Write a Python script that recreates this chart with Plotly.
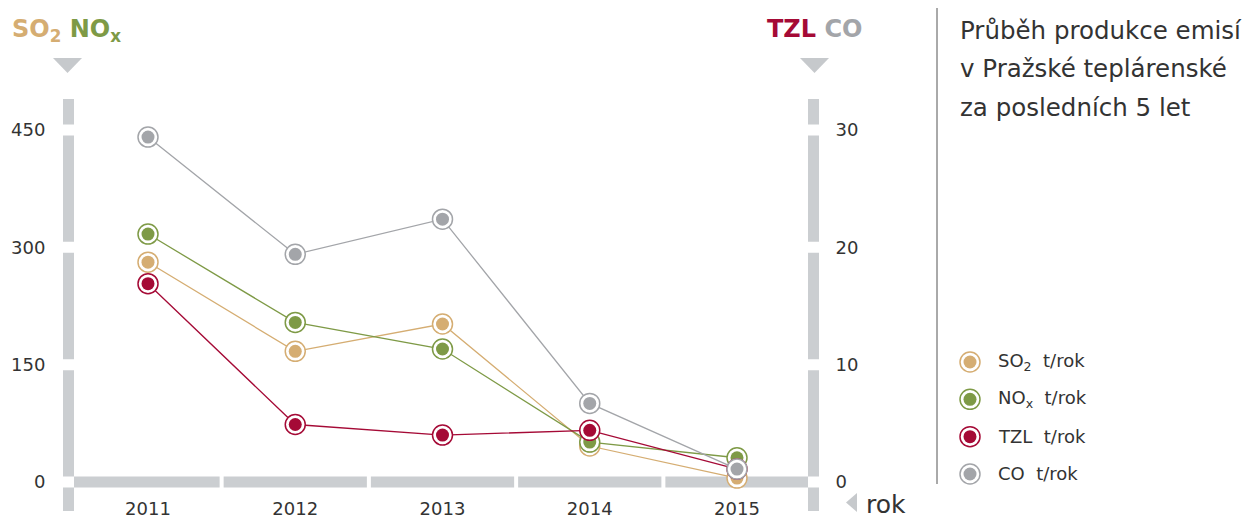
import plotly.graph_objects as go

W, H = 1243, 518

years = [2011, 2012, 2013, 2014, 2015]
so2 = [281, 167, 202, 46, 5]        # t/rok, left axis
nox = [317, 204, 170, 51, 31]       # t/rok, left axis
tzl = [16.9, 4.9, 4.0, 4.4, 1.1]    # t/rok, right axis
co = [29.4, 19.4, 22.4, 6.7, 1.1]   # t/rok, right axis

left_ticks = [0, 150, 300, 450]
right_ticks = [0, 10, 20, 30]

series = [
    ("SO<sub>2</sub>", so2, "#d5ad72", "y"),
    ("NO<sub>x</sub>", nox, "#7e9a46", "y"),
    ("TZL", tzl, "#a50a36", "y2"),
    ("CO", co, "#a3a5a9", "y2"),
]

BAR = "#cbced1"
TXT = "#333333"
FONT = "DejaVu Sans"

def px(x):
    return x / W

def py(y):
    return (H - y) / H

fig = go.Figure()

for name, vals, col, yax in series:
    fig.add_trace(go.Scatter(x=years, y=vals, yaxis=yax, mode="lines",
                             line=dict(color=col, width=1.3), showlegend=False, hoverinfo="skip"))
    fig.add_trace(go.Scatter(x=years, y=vals, yaxis=yax, mode="markers",
                             marker=dict(size=20, color="white", line=dict(color=col, width=1.5)),
                             showlegend=False, hoverinfo="skip"))
    fig.add_trace(go.Scatter(x=years, y=vals, yaxis=yax, mode="markers",
                             marker=dict(size=13, color=col, line=dict(width=0)),
                             showlegend=False, name=name))

# legend (manual, double-ring markers)
for i, (name, vals, col, yax) in enumerate(series):
    fig.add_trace(go.Scatter(x=[0.5], y=[i], xaxis="x3", yaxis="y3", mode="markers",
                             marker=dict(size=20, color="white", line=dict(color=col, width=1.5)),
                             showlegend=False, hoverinfo="skip"))
    fig.add_trace(go.Scatter(x=[0.5], y=[i], xaxis="x3", yaxis="y3", mode="markers",
                             marker=dict(size=13, color=col, line=dict(width=0)),
                             showlegend=False, hoverinfo="skip"))
    fig.add_annotation(x=px(996), y=i, xref="paper", yref="y3", xanchor="left", yanchor="middle",
                       text=name + "&nbsp; t/rok", showarrow=False,
                       font=dict(family=FONT, size=18, color=TXT))

# axis ranges derived from pixel geometry
x0_px, x1_px = 68, 813
x_step = 147.25
xr = [years[0] - (148 - x0_px) / x_step, years[-1] + (x1_px - 737) / x_step]
ybot_px, ytop_px = 511, 99
unit = 352 / 450.0  # px per t on left axis
yr = [-(ybot_px - 482) / unit, (482 - ytop_px) / unit]

shapes = []
# vertical segmented bars
gap = 7
for xa, xb in [(63, 74), (808, 819)]:
    edges = [yr[0]] + sum([[t - gap, t + gap] for t in left_ticks], []) + [yr[1]]
    for k in range(0, len(edges), 2):
        shapes.append(dict(type="rect", xref="paper", yref="y", x0=px(xa), x1=px(xb),
                           y0=edges[k], y1=edges[k + 1], fillcolor=BAR, line=dict(width=0), layer="below"))
# horizontal segmented bar
xl = xr[0] + (74 - x0_px) / x_step
xh = xr[0] + (808 - x0_px) / x_step
hg = 2 / x_step
xedges = [xl] + sum([[y + 0.5 - hg, y + 0.5 + hg] for y in years[:-1]], []) + [xh]
for k in range(0, len(xedges), 2):
    shapes.append(dict(type="rect", xref="x", yref="y", x0=xedges[k], x1=xedges[k + 1],
                       y0=-gap, y1=gap, fillcolor=BAR, line=dict(width=0), layer="below"))

def tri(pts):
    s = "M " + " L ".join(f"{px(a)},{py(b)}" for a, b in pts) + " Z"
    return dict(type="path", xref="paper", yref="paper", path=s, fillcolor="#c6c9cc", line=dict(width=0))

shapes.append(tri([(53, 58), (82, 58), (67.5, 73)]))
shapes.append(tri([(800, 58), (829, 58), (814.5, 73)]))
shapes.append(tri([(857, 493), (857, 512), (846, 502.5)]))
# separator line
shapes.append(dict(type="line", xref="paper", yref="paper", x0=px(937), x1=px(937), y0=py(8), y1=py(484),
                   line=dict(color="#555555", width=1)))

fig.update_layout(
    width=W, height=H, margin=dict(l=0, r=0, t=0, b=0, autoexpand=False),
    paper_bgcolor="white", plot_bgcolor="rgba(0,0,0,0)",
    showlegend=False, shapes=shapes,
    font=dict(family=FONT, color=TXT),
    xaxis=dict(domain=[px(x0_px), px(x1_px)], range=xr, tickvals=years, ticktext=[str(y) for y in years],
               showgrid=False, zeroline=False, showline=False, ticks="", anchor="free", position=py(496),
               automargin=False, tickfont=dict(family=FONT, size=18, color=TXT)),
    yaxis=dict(domain=[py(ybot_px), py(ytop_px)], range=yr, tickvals=left_ticks, automargin=False,
               showgrid=False, zeroline=False, showline=False, ticks="outside", ticklen=18,
               tickcolor="rgba(0,0,0,0)", tickfont=dict(family=FONT, size=18, color=TXT)),
    yaxis2=dict(domain=[py(ybot_px), py(ytop_px)], range=[yr[0] / 15, yr[1] / 15], tickvals=right_ticks,
                overlaying="y", side="right", anchor="x", automargin=False,
                showgrid=False, zeroline=False, showline=False, ticks="outside", ticklen=18,
                tickcolor="rgba(0,0,0,0)", tickfont=dict(family=FONT, size=18, color=TXT)),
    xaxis3=dict(domain=[px(950), px(990)], range=[0, 1], visible=False, anchor="y3", automargin=False),
    yaxis3=dict(domain=[py(492.65), py(343.35)], range=[3.5, -0.5], visible=False, anchor="x3",
                automargin=False),
)

fig.add_annotation(x=px(10), y=py(31), xref="paper", yref="paper", xanchor="left", yanchor="middle",
                   showarrow=False, font=dict(family=FONT, size=24),
                   text="<b><span style='color:#d5ad72'>SO<sub style='font-size:15px'>2</sub></span> "
                        "<span style='color:#7e9a46'>NO<sub style='font-size:15px'>x</sub></span></b>")
fig.add_annotation(x=px(864), y=py(29), xref="paper", yref="paper", xanchor="right", yanchor="middle",
                   showarrow=False, font=dict(family=FONT, size=24),
                   text="<b><span style='color:#a50a36'>TZL</span> <span style='color:#a3a5a9'>CO</span></b>")
fig.add_annotation(x=px(864), y=py(504), xref="paper", yref="paper", xanchor="left", yanchor="middle",
                   showarrow=False, font=dict(family=FONT, size=25, color=TXT), text="rok")
for j, line in enumerate(["Průběh produkce emisí", "v Pražské teplárenské", "za posledních 5 let"]):
    fig.add_annotation(x=px(958), y=py(31 + 38 * j), xref="paper", yref="paper", xanchor="left",
                       yanchor="middle", showarrow=False, font=dict(family=FONT, size=24.5, color=TXT), text=line)

fig.write_html("out.html", post_script="document.body.style.margin='0';",
               config={"displayModeBar": False})
